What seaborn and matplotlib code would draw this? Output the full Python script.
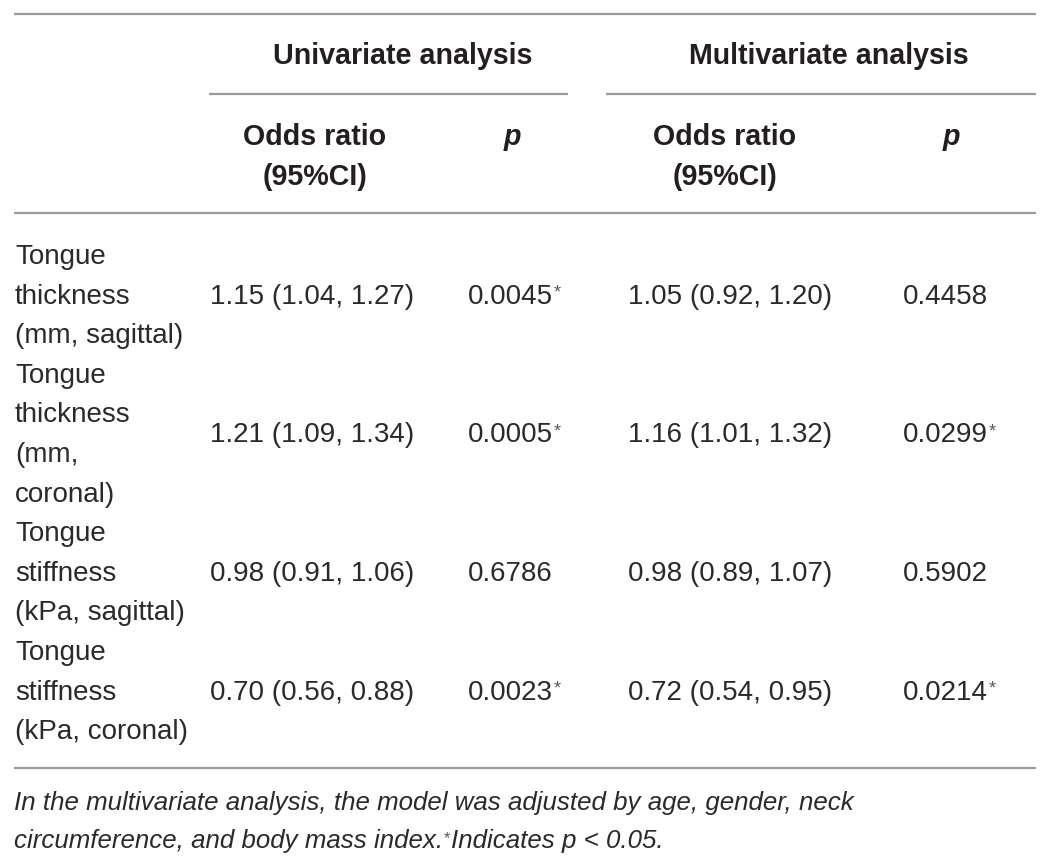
import matplotlib
matplotlib.use("Agg")
import matplotlib.pyplot as plt
import seaborn as sns

# ---------------- data ----------------
row_labels = [
    ["Tongue", "thickness", "(mm, sagittal)"],
    ["Tongue", "thickness", "(mm,", "coronal)"],
    ["Tongue", "stiffness", "(kPa, sagittal)"],
    ["Tongue", "stiffness", "(kPa, coronal)"],
]
uni_or = ["1.15 (1.04, 1.27)", "1.21 (1.09, 1.34)", "0.98 (0.91, 1.06)", "0.70 (0.56, 0.88)"]
uni_p = ["0.0045", "0.0005", "0.6786", "0.0023"]
uni_sig = [True, True, False, True]
multi_or = ["1.05 (0.92, 1.20)", "1.16 (1.01, 1.32)", "0.98 (0.89, 1.07)", "0.72 (0.54, 0.95)"]
multi_p = ["0.4458", "0.0299", "0.5902", "0.0214"]
multi_sig = [False, True, False, True]
group_headers = ["Univariate analysis", "Multivariate analysis"]
footnote_1 = "In the multivariate analysis, the model was adjusted by age, gender, neck"
footnote_2a = "circumference, and body mass index."
footnote_2b = "Indicates p < 0.05."

# ---------------- style ----------------
sns.set_theme(style="white")
plt.rcParams["font.family"] = ["Liberation Sans", "DejaVu Sans"]

W, H = 1056, 868
fig = plt.figure(figsize=(W / 100, H / 100), dpi=100)
ax = fig.add_axes([0, 0, 1, 1])
ax.set_xlim(0, W)
ax.set_ylim(H, 0)
ax.axis("off")

TXT = "#231f20"
BODY = "#2a2a2a"
LINE = "#9b9b9b"
FS = 20.0
FSB = 20.6
lw = 1.6

# rules
ax.hlines([14, 213, 768], 14, 1036, color=LINE, lw=lw)
ax.hlines([94], 209, 568, color=LINE, lw=lw)
ax.hlines([94], 606, 1036, color=LINE, lw=lw)

# headers
ax.text(403, 64, group_headers[0], ha="center", va="baseline", fontsize=FSB,
        fontweight="bold", color=TXT)
ax.text(829, 64, group_headers[1], ha="center", va="baseline", fontsize=FSB,
        fontweight="bold", color=TXT)
for cx in (315, 725):
    ax.text(cx, 145, "Odds ratio", ha="center", va="baseline", fontsize=FSB,
            fontweight="bold", color=TXT)
    ax.text(cx, 185, "(95%CI)", ha="center", va="baseline", fontsize=FSB,
            fontweight="bold", color=TXT)
for cx in (512, 951):
    ax.text(cx, 145, "p", ha="center", va="baseline", fontsize=FSB,
            fontweight="bold", fontstyle="italic", color=TXT)

renderer = fig.canvas.get_renderer()
inv = ax.transData.inverted()


def right_edge(t):
    bb = t.get_window_extent(renderer=renderer)
    return inv.transform((bb.x1, bb.y1))[0]


def star_after(t, y):
    x = right_edge(t)
    ax.text(x + 0.5, y - 6, "*", ha="left", va="baseline", fontsize=13,
            color="#5a5a5a")


# body
base0 = 264.0
step = 39.6
line_i = 0
for r, lines in enumerate(row_labels):
    ys = []
    for ln in lines:
        y = base0 + step * line_i
        ax.text(15, y, ln, ha="left", va="baseline", fontsize=FS, color=BODY)
        ys.append(y)
        line_i += 1
    ymid = sum(ys) / len(ys)
    ax.text(210, ymid, uni_or[r], ha="left", va="baseline", fontsize=FS, color=BODY)
    t = ax.text(468, ymid, uni_p[r], ha="left", va="baseline", fontsize=FS, color=BODY)
    if uni_sig[r]:
        star_after(t, ymid)
    ax.text(628, ymid, multi_or[r], ha="left", va="baseline", fontsize=FS, color=BODY)
    t = ax.text(903, ymid, multi_p[r], ha="left", va="baseline", fontsize=FS, color=BODY)
    if multi_sig[r]:
        star_after(t, ymid)

# footnote
FSN = 18.6
ax.text(14, 810, footnote_1, ha="left", va="baseline", fontsize=FSN,
        fontstyle="italic", color=BODY)
t = ax.text(14, 848, footnote_2a, ha="left", va="baseline", fontsize=FSN,
            fontstyle="italic", color=BODY)
x = right_edge(t)
s = ax.text(x + 1, 843, "*", ha="left", va="baseline", fontsize=12, color="#5a5a5a")
x2 = right_edge(s)
ax.text(x2 + 0.5, 848, footnote_2b, ha="left", va="baseline", fontsize=FSN,
        fontstyle="italic", color=BODY)

fig.savefig("out.png", dpi=100, facecolor="white")
